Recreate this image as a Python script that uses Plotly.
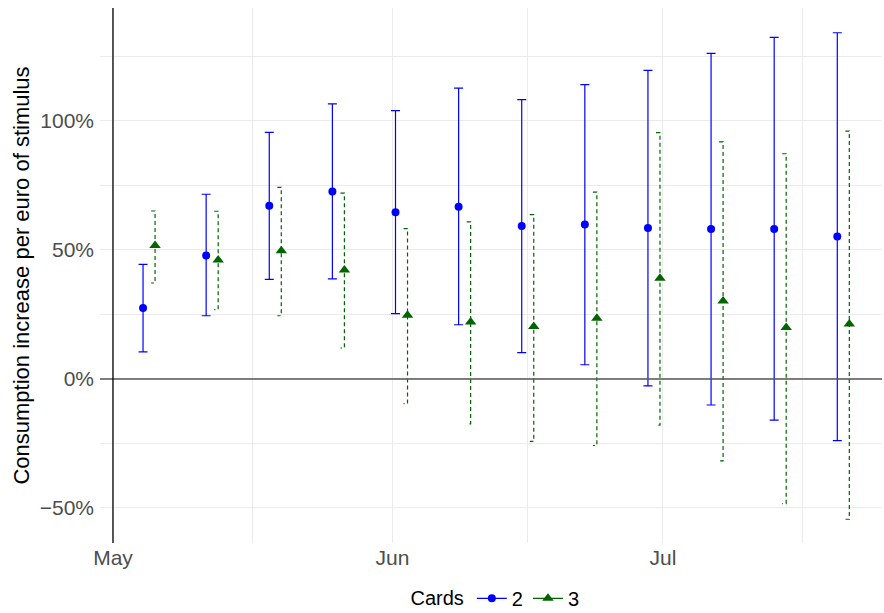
import pandas as pd
import plotly.graph_objects as go

# ---- data ----
week_dates = pd.date_range("2020-05-05", periods=12, freq="7D")
cards2_mean = [27.5, 47.9, 67.1, 72.7, 64.6, 66.8, 59.3, 59.9, 58.5, 58.1, 58.1, 55.2]
cards2_upper = [44.4, 71.6, 95.6, 106.6, 104.0, 112.7, 108.3, 114.1, 119.6, 126.2, 132.4, 134.2]
cards2_lower = [10.5, 24.5, 38.6, 38.8, 25.3, 21.0, 10.2, 5.5, -2.7, -10.1, -16.0, -23.9]
cards3_mean = [51.7, 46.1, 49.7, 42.2, 24.7, 22.1, 20.3, 23.5, 39.0, 30.2, 19.9, 21.3]
cards3_upper = [65.1, 65.0, 74.3, 72.0, 58.3, 60.9, 63.7, 72.4, 95.5, 91.9, 87.3, 96.1]
cards3_lower = [37.2, 26.9, 24.5, 12.0, -9.6, -17.4, -24.2, -25.8, -17.9, -31.8, -48.3, -54.4]

y_tick_vals = [-50, 0, 50, 100]
y_tick_text = ["\u221250%", "0%", "50%", "100%"]
y_minor_vals = [-25, 25, 75, 125]
x_tick_vals = ["2020-05-01", "2020-06-01", "2020-07-01"]
x_tick_text = ["May", "Jun", "Jul"]
x_minor_vals = ["2020-05-16 12:00", "2020-06-16", "2020-07-16 12:00"]
ref_date = "2020-05-01"

# ---- style ----
BLUE = "#0000FF"
GREEN = "#006400"
dodge = pd.Timedelta(hours=16)
cap = pd.Timedelta(hours=10.5)
FONT = "Liberation Sans, Arial, sans-serif"

x2 = [d - dodge for d in week_dates]
x3 = [d + dodge for d in week_dates]

fig = go.Figure()

# blue point-ranges
fig.add_trace(go.Scatter(
    x=x2, y=cards2_mean, mode="markers",
    marker=dict(color=BLUE, size=8, symbol="circle"),
    error_y=dict(type="data", symmetric=False,
                 array=[u - m for u, m in zip(cards2_upper, cards2_mean)],
                 arrayminus=[m - l for m, l in zip(cards2_mean, cards2_lower)],
                 color=BLUE, thickness=1.2, width=4.5),
    showlegend=False, hoverinfo="skip"))

# green dashed error bars with left-side caps
gx, gy = [], []
for d, lo, hi in zip(x3, cards3_lower, cards3_upper):
    gx += [d - cap, d, d, d - cap, None]
    gy += [hi, hi, lo, lo, None]
fig.add_trace(go.Scatter(
    x=gx, y=gy, mode="lines",
    line=dict(color=GREEN, width=1.2, dash="4px,3px"),
    showlegend=False, hoverinfo="skip"))
fig.add_trace(go.Scatter(
    x=x3, y=cards3_mean, mode="markers",
    marker=dict(color=GREEN, size=10, symbol="triangle-up"),
    showlegend=False, hoverinfo="skip"))

# legend entries
fig.add_trace(go.Scatter(x=[None], y=[None], mode="lines+markers", name="2",
                         line=dict(color=BLUE, width=1.2),
                         marker=dict(color=BLUE, size=8, symbol="circle")))
fig.add_trace(go.Scatter(x=[None], y=[None], mode="lines+markers", name="3",
                         line=dict(color=GREEN, width=1.2),
                         marker=dict(color=GREEN, size=10, symbol="triangle-up")))

# reference lines
fig.add_shape(type="line", xref="paper", yref="y", x0=0, x1=1, y0=0, y1=0,
              line=dict(color="#555555", width=1.5), layer="above")
fig.add_shape(type="line", xref="x", yref="paper", x0=ref_date, x1=ref_date, y0=0, y1=1,
              line=dict(color="#000000", width=1.3), layer="above")

fig.update_layout(
    width=884, height=613,
    margin=dict(l=100, r=2, t=8, b=70, autoexpand=False),
    paper_bgcolor="white", plot_bgcolor="white",
    font=dict(family=FONT, size=20, color="#000000"),
    xaxis=dict(
        range=["2020-04-29 13:26", "2020-07-25 07:00"],
        tickvals=x_tick_vals, ticktext=x_tick_text,
        tickfont=dict(size=21, color="#4d4d4d"),
        showgrid=True, gridcolor="#ebebeb", gridwidth=1.1,
        minor=dict(tickvals=x_minor_vals, showgrid=True, gridcolor="#ebebeb", gridwidth=0.6),
        zeroline=False, showline=False, ticks="", ticklen=0, automargin=False),
    yaxis=dict(
        range=[-63.6, 143.8],
        tickvals=y_tick_vals, ticktext=y_tick_text,
        tickfont=dict(size=21, color="#4d4d4d"),
        ticklabelstandoff=5,
        showgrid=True, gridcolor="#ebebeb", gridwidth=1.1,
        minor=dict(tickvals=y_minor_vals, showgrid=True, gridcolor="#ebebeb", gridwidth=0.6),
        zeroline=False, showline=False, ticks="", automargin=False,
        title=dict(text="Consumption increase per euro of stimulus", font=dict(size=22), standoff=4)),
    legend=dict(orientation="h", x=0.507, xanchor="center", y=-0.067, yanchor="top",
                title=dict(text="Cards", font=dict(size=20)),
                font=dict(size=20), itemwidth=30),
)

fig.write_html("out.html", config={"displayModeBar": False},
               post_script="document.body.style.margin='0';")
